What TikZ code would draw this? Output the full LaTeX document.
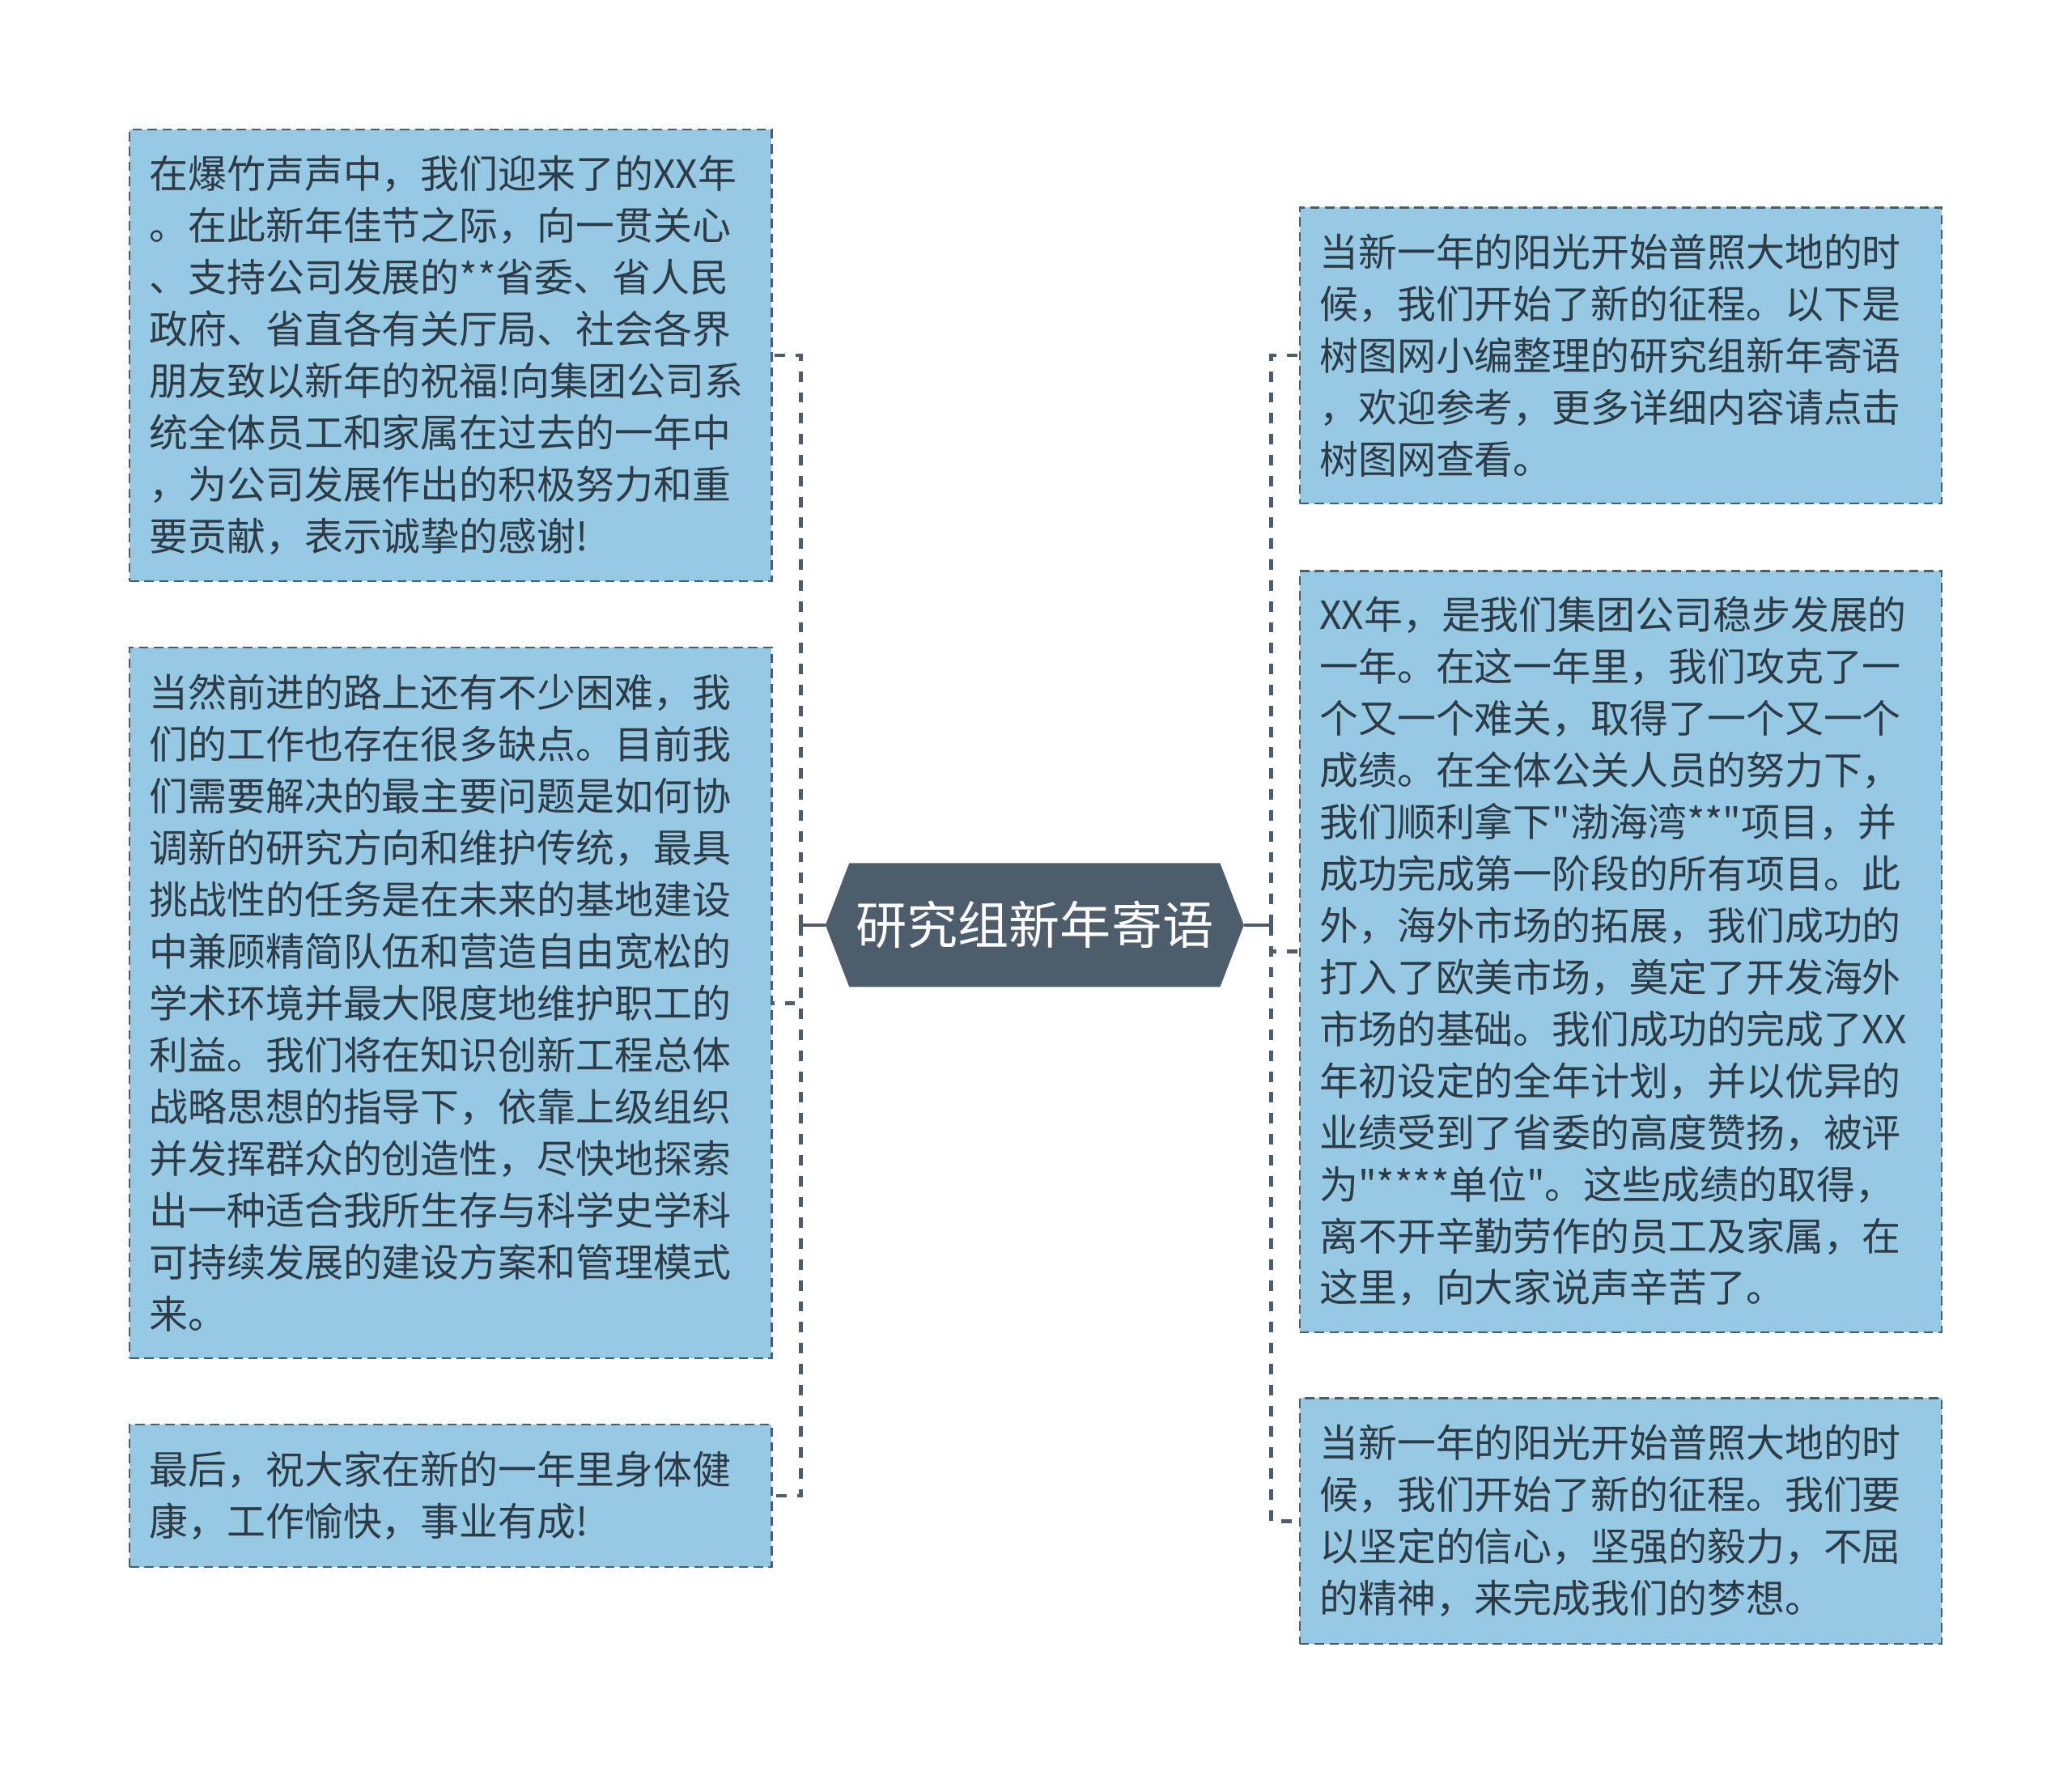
\documentclass[tikz,border=0pt]{standalone}
\usepackage{fontspec}
\newfontfamily\cjk{Noto Sans CJK SC}
\usepackage{xcolor}
\usetikzlibrary{backgrounds}
\definecolor{boxfill}{HTML}{96C9E3}
\definecolor{slate}{HTML}{4D5D6C}
\definecolor{ink}{HTML}{2E3A44}

\begin{document}
\begin{tikzpicture}
	[x=0.02cm,y=-0.02cm,
	msg/.style={draw=slate,line width=0.8pt,dash pattern=on 4pt off 2.4pt,fill=boxfill,text=ink,
		text width=9.12cm,inner xsep=0.3cm,inner ysep=0pt,align=left,
		font=\cjk\fontsize{16.7pt}{22.3pt}\selectfont},
	link/.style={draw=slate,line width=1.6pt},
	spine/.style={link,dash pattern=on 4.5pt off 4.5pt}]
	\useasboundingbox (0,0) rectangle (1568,1343);
	%ROOT
	\node[minimum width=6.32cm,minimum height=1.86cm,inner sep=0pt,text=white,
		font=\cjk\fontsize{22pt}{26pt}\selectfont] (root) at (783,700) {研究组新年寄语};
	\begin{pgfonlayer}{background}
		\fill[slate] (root.west) -- ([xshift=0.36cm]root.north west) -- ([xshift=-0.36cm]root.north east)
			-- (root.east) -- ([xshift=-0.36cm]root.south east) -- ([xshift=0.36cm]root.south west) -- cycle;
	\end{pgfonlayer}
	%LEFT
	\node[msg,minimum height=6.84cm] (l1) at (341,269) {在爆竹声声中，我们迎来了的XX年\\
		。在此新年佳节之际，向一贯关心\\
		、支持公司发展的**省委、省人民\\
		政府、省直各有关厅局、社会各界\\
		朋友致以新年的祝福!向集团公司系\\
		统全体员工和家属在过去的一年中\\
		，为公司发展作出的积极努力和重\\
		要贡献，表示诚挚的感谢!};
	\node[msg,minimum height=10.76cm] (l2) at (341,759) {当然前进的路上还有不少困难，我\\
		们的工作也存在很多缺点。目前我\\
		们需要解决的最主要问题是如何协\\
		调新的研究方向和维护传统，最具\\
		挑战性的任务是在未来的基地建设\\
		中兼顾精简队伍和营造自由宽松的\\
		学术环境并最大限度地维护职工的\\
		利益。我们将在知识创新工程总体\\
		战略思想的指导下，依靠上级组织\\
		并发挥群众的创造性，尽快地探索\\
		出一种适合我所生存与科学史学科\\
		可持续发展的建设方案和管理模式\\
		来。};
	\node[msg,minimum height=2.16cm] (l3) at (341,1132) {最后，祝大家在新的一年里身体健\\
		康，工作愉快，事业有成!};
	%RIGHT
	\node[msg,minimum height=4.48cm] (r1) at (1226.5,269) {当新一年的阳光开始普照大地的时\\
		候，我们开始了新的征程。以下是\\
		树图网小编整理的研究组新年寄语\\
		，欢迎参考，更多详细内容请点击\\
		树图网查看。};
	\node[msg,minimum height=11.52cm] (r2) at (1226.5,720) {XX年，是我们集团公司稳步发展的\\
		一年。在这一年里，我们攻克了一\\
		个又一个难关，取得了一个又一个\\
		成绩。在全体公关人员的努力下，\\
		我们顺利拿下"渤海湾**"项目，并\\
		成功完成第一阶段的所有项目。此\\
		外，海外市场的拓展，我们成功的\\
		打入了欧美市场，奠定了开发海外\\
		市场的基础。我们成功的完成了XX\\
		年初设定的全年计划，并以优异的\\
		业绩受到了省委的高度赞扬，被评\\
		为"****单位"。这些成绩的取得，\\
		离不开辛勤劳作的员工及家属，在\\
		这里，向大家说声辛苦了。};
	\node[msg,minimum height=3.72cm] (r3) at (1226.5,1151) {当新一年的阳光开始普照大地的时\\
		候，我们开始了新的征程。我们要\\
		以坚定的信心，坚强的毅力，不屈\\
		的精神，来完成我们的梦想。};
	%LINKS
	\coordinate (lhub) at (606,700);
	\coordinate (rhub) at (962,700);
	\draw[link] (root.west) -- (lhub);
	\draw[link] (root.east) -- (rhub);
	\foreach \b in {l1,l2,l3}
		\draw[spine] (lhub) |- (\b.east);
	\foreach \b in {r1,r2,r3}
		\draw[spine] (rhub) |- (\b.west);
\end{tikzpicture}
\end{document}
